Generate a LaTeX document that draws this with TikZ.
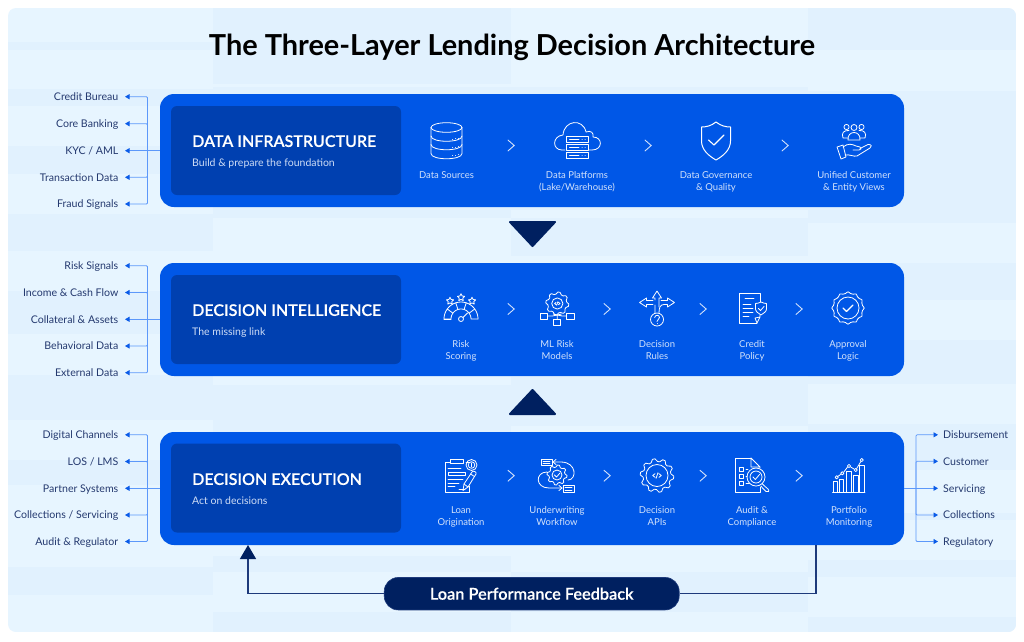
\documentclass[tikz,border=0pt]{standalone}
\usepackage{fontspec}
\setmainfont{Lato}
\newfontfamily\latosemi[FakeBold=0.15]{Lato Semibold}
\usetikzlibrary{arrows.meta}
\definecolor{bgA}{HTML}{E7F5FF}
\definecolor{bgB}{HTML}{E1F1FE}
\definecolor{panelblue}{HTML}{0057E7}
\definecolor{innerblue}{HTML}{0040B0}
\definecolor{navy}{HTML}{002060}
\definecolor{labelc}{HTML}{24396F}
\definecolor{itemc}{HTML}{D3E2FB}
\definecolor{subc}{HTML}{CFDDF6}
\definecolor{branchc}{HTML}{5C98FA}
\definecolor{tipc}{HTML}{0A5BE8}
\definecolor{fbline}{HTML}{1E3A7B}
\tikzset{
  panel/.style={fill=panelblue,draw=none,rounded corners=14pt,minimum width=744pt,minimum height=113pt,inner sep=0pt},
  innerbox/.style={fill=innerblue,draw=none,rounded corners=6pt,minimum width=230pt,minimum height=89pt,inner sep=0pt},
  paneltitle/.style={anchor=base west,inner sep=0pt,text=white,font=\latosemi\fontsize{16.03}{19}\selectfont},
  panelsub/.style={anchor=base west,inner sep=0pt,text=subc,font=\fontsize{10.5}{12}\selectfont},
  itemlabel/.style={anchor=north,inner sep=0pt,align=center,text=itemc,font=\fontsize{9.5}{11.7}\selectfont},
  sidel/.style={anchor=east,inner sep=0pt,text=labelc,text height=10pt,text depth=2.4pt,font=\fontsize{10.6}{12}\selectfont},
  sider/.style={anchor=west,inner sep=0pt,text=labelc,text height=10pt,text depth=2.4pt,font=\fontsize{10.6}{12}\selectfont},
  branch/.style={draw=branchc,line width=0.8pt,rounded corners=1pt,-{Triangle[length=4.5pt,width=5pt,color=tipc]}},
  branchl/.style={branch,shorten >=6.5pt},
  branchr/.style={branch,shorten >=5pt},
  fb/.style={draw=fbline,line width=1.3pt},
  ic/.style={draw=white,line width=0.8pt,line join=round,line cap=round},
  chev/.style={draw=itemc,line width=0.9pt,line join=miter},
  flow/.style={fill=navy,draw=navy,line width=2pt,line join=round}
}
\newcommand{\chevat}[2]{\draw[chev] (#1-3.2,#2-5.6) -- (#1+3.2,#2) -- (#1-3.2,#2+5.6);}
% star, centred on x,y with radius r
\newcommand{\ikstar}[3]{\begin{scope}[shift={(#1,#2)}]\draw[ic] plot[samples at={0,...,9},variable=\k] ({(mod(\k,2)==0?#3:#3*0.5)*sin(36*\k)},{-(mod(\k,2)==0?#3:#3*0.5)*cos(36*\k)}) -- cycle;\end{scope}}
% gear: x,y, root radius, tip radius, teeth
\newcommand{\ikgear}[5]{\begin{scope}[shift={(#1,#2)}]\draw[ic] plot[samples at={0,...,\numexpr4*#5-1\relax},variable=\k] ({(mod(\k,4)<2?#4:#3)*cos(90*\k/#5+22.5/#5)},{(mod(\k,4)<2?#4:#3)*sin(90*\k/#5+22.5/#5)}) -- cycle;\end{scope}}
% code sign
\newcommand{\ikcode}[3]{\begin{scope}[shift={(#1,#2)},scale=#3]\draw[ic] (-2,-2)--(-4.5,0)--(-2,2) (2,-2)--(4.5,0)--(2,2) (1,-3)--(-1,3);\end{scope}}
\begin{document}
\begin{tikzpicture}[x=1pt,y=-1pt]
\useasboundingbox (0,0) rectangle (1024,641);
\fill[white] (0,0) rectangle (1024,641);
% background
\begin{scope}
\clip[rounded corners=8pt] (8,8) rectangle (1016,632);
\fill[bgA] (8,8) rectangle (1016,632);
\foreach \ya/\yb in {42/50,89/106,146/174,214/251,291/334,375/420,460/485,567/595}
  \fill[bgB] (8,\ya) rectangle (213,\yb);
\foreach \ya/\yb in {8/84,87/218,385/420,420/540,556/572,612/632}
  \fill[bgB] (213,\ya) rectangle (511,\yb);
\foreach \ya/\yb in {87/210,218/256,377/426,572/612}
  \fill[bgB] (511,\ya) rectangle (808,\yb);
\foreach \ya/\yb in {8/50,91/223,263/300,340/384,424/470,513/520,560/577,617/632}
  \fill[bgB] (808,\ya) rectangle (1016,\yb);
\end{scope}
% title
\node[inner sep=0pt,text=black,font=\fontsize{28.9}{34}\selectfont\bfseries] (title) at (512,47.6) {The Three-Layer Lending Decision Architecture};
% panels
\node[panel] (p1) at (532,150.5) {};
\node[panel] (p2) at (532,319.5) {};
\node[panel] (p3) at (532,488.5) {};
\node[innerbox] (c1) at (286,150.5) {};
\node[innerbox] (c2) at (286,319.5) {};
\node[innerbox] (c3) at (286,488) {};
\node[paneltitle] (t1) at (192,146.9) {DATA INFRASTRUCTURE};
\node[panelsub] (s1) at (192,166) {Build \& prepare the foundation};
\node[paneltitle] (t2) at (192,315.9) {DECISION INTELLIGENCE};
\node[panelsub] (s2) at (192,335) {The missing link};
\node[paneltitle] (t3) at (192,484.9) {DECISION EXECUTION};
\node[panelsub] (s3) at (192,504) {Act on decisions};
% flow triangles
\draw[flow] (510,222) -- (555,222) -- (532.5,246) -- cycle;
\draw[flow] (510,414) -- (555,414) -- (532.5,390) -- cycle;
% side labels
\node[sidel] (l11) at (118.5,96.7) {Credit Bureau};
\node[sidel] (l12) at (118.5,123.7) {Core Banking};
\node[sidel] (l13) at (118.5,150.7) {KYC / AML};
\node[sidel] (l14) at (118.5,177.3) {Transaction Data};
\node[sidel] (l15) at (118.5,204) {Fraud Signals};
\node[sidel] (l21) at (118.5,265.7) {Risk Signals};
\node[sidel] (l22) at (118.5,292.5) {Income \& Cash Flow};
\node[sidel] (l23) at (118.5,319.3) {Collateral \& Assets};
\node[sidel] (l24) at (118.5,346) {Behavioral Data};
\node[sidel] (l25) at (118.5,372.7) {External Data};
\node[sidel] (l31) at (118.5,434.8) {Digital Channels};
\node[sidel] (l32) at (118.5,461.5) {LOS / LMS};
\node[sidel] (l33) at (118.5,488.3) {Partner Systems};
\node[sidel] (l34) at (118.5,515) {Collections / Servicing};
\node[sidel] (l35) at (118.5,541.5) {Audit \& Regulator};
\node[sider] (r1) at (943,434.8) {Disbursement};
\node[sider] (r2) at (943,461.3) {Customer};
\node[sider] (r3) at (943,488.3) {Servicing};
\node[sider] (r4) at (943,515) {Collections};
\node[sider] (r5) at (943,541.5) {Regulatory};
% branches
\coordinate (tr1) at (147.5,150.7);
\coordinate (tr2) at (147.5,319.3);
\coordinate (tr3) at (147.5,488.3);
\coordinate (tr4) at (916,488.3);
\foreach \i in {1,2,3} {
  \draw[branchl] (p\i.west |- l\i3.east) -- (l\i3.east);
  \draw[branchl] (tr\i) |- (l\i1.east);
  \draw[branchl] (tr\i) |- (l\i2.east);
  \draw[branchl] (tr\i) |- (l\i4.east);
  \draw[branchl] (tr\i) |- (l\i5.east);
}
\draw[branchr] (p3.east |- r3.west) -- (r3.west);
\draw[branchr] (tr4) |- (r1.west);
\draw[branchr] (tr4) |- (r2.west);
\draw[branchr] (tr4) |- (r4.west);
\draw[branchr] (tr4) |- (r5.west);
% feedback
\node[fill=navy,draw=fbline,line width=0.6pt,rounded corners=14pt,minimum width=295pt,minimum height=32.5pt,inner sep=0pt,text=white,font=\latosemi\fontsize{16.3}{19}\selectfont] (fbp) at (531.7,593.7) {Loan Performance Feedback};
\coordinate (fbL) at (248,545);
\coordinate (fbR) at (816,545);
\draw[fb] (fbR) |- (fbp.east);
\draw[fb,-{Triangle[length=14pt,width=16pt,color=navy]}] (fbp.west) -| (fbL);
% chevrons
\foreach \x in {511,648,785} {\chevat{\x}{145.5}}
\foreach \x in {511,607,703,799} {\chevat{\x}{309}}
\foreach \x in {511,607,703,799} {\chevat{\x}{475.7}}
% item labels
\node[itemlabel] (a1) at (446.5,171.3) {Data Sources};
\node[itemlabel] (a2) at (577,171.3) {Data Platforms\\(Lake/Warehouse)};
\node[itemlabel] (a3) at (716,171.3) {Data Governance\\\& Quality};
\node[itemlabel] (a4) at (854,171.3) {Unified Customer\\\& Entity Views};
\node[itemlabel] (b1) at (461,340.3) {Risk\\Scoring};
\node[itemlabel] (b2) at (557,340.3) {ML Risk\\Models};
\node[itemlabel] (b3) at (657,340.3) {Decision\\Rules};
\node[itemlabel] (b4) at (752,340.3) {Credit\\Policy};
\node[itemlabel] (b5) at (848,340.3) {Approval\\Logic};
\node[itemlabel] (d1) at (461,506.3) {Loan\\Origination};
\node[itemlabel] (d2) at (557,506.3) {Underwriting\\Workflow};
\node[itemlabel] (d3) at (657,506.3) {Decision\\APIs};
\node[itemlabel] (d4) at (752,506.3) {Audit \&\\Compliance};
\node[itemlabel] (d5) at (849,506.3) {Portfolio\\Monitoring};
% ---- icons ----
% database
\begin{scope}[shift={(446.5,141)}]
\draw[ic] (0,-13.5) ellipse (15.5 and 4.8);
\draw[ic] (-15.5,-13.5) -- (-15.5,12.5) .. controls (-15.5,19.5) and (15.5,19.5) .. (15.5,12.5) -- (15.5,-13.5);
\draw[ic] (-15.5,-5) .. controls (-15.5,2) and (15.5,2) .. (15.5,-5);
\draw[ic] (-15.5,3.5) .. controls (-15.5,10.5) and (15.5,10.5) .. (15.5,3.5);
\foreach \yy in {-2,6.5,14.5} \draw[ic,line width=0.7pt] (6,\yy) -- (6.3,\yy) (9,\yy-0.5) -- (9.3,\yy-0.5) (12,\yy-1) -- (12.3,\yy-1);
\end{scope}
% cloud and servers
\begin{scope}[shift={(577,141)}]
\draw[ic] (-12,9) -- (-15,9) .. controls (-25,9) and (-25,-5) .. (-14,-6) .. controls (-13,-21) and (6,-23) .. (9,-9) .. controls (14,-11) and (17,-8) .. (16,-4) .. controls (26,-4) and (26,9) .. (15,9) -- (12,9);
\foreach \yy in {-5,3,11} {
  \draw[ic] (-11,\yy) rectangle (11,\yy+6);
  \draw[ic] (-7.5,\yy+3) -- (2,\yy+3) (5,\yy+3) -- (5.2,\yy+3) (8,\yy+3) -- (8.2,\yy+3);
}
\end{scope}
% shield
\begin{scope}[shift={(716,141)}]
\draw[ic,line width=1pt] (0,-19) .. controls (5,-15) and (10,-14) .. (14.5,-14) -- (14.5,0) .. controls (14.5,9) and (7,15) .. (0,19) .. controls (-7,15) and (-14.5,9) .. (-14.5,0) -- (-14.5,-14) .. controls (-10,-14) and (-5,-15) .. (0,-19) -- cycle;
\draw[ic,line width=1.1pt] (-7.5,-1) -- (-2,4) -- (8,-6);
\end{scope}
% people and hand
\begin{scope}[shift={(854,141)}]
\draw[ic] (-7.5,-14) circle (2.6) (7.5,-14) circle (2.6) (0,-13.5) circle (3);
\draw[ic] (-6,-1) .. controls (-7,-11) and (7,-11) .. (6,-1) -- cycle;
\draw[ic] (-6,-3) -- (-11,-3) .. controls (-13,-8) and (-10,-11) .. (-5,-10.5);
\draw[ic] (6,-3) -- (11,-3) .. controls (13,-8) and (10,-11) .. (5,-10.5);
\draw[ic] (-11,6) .. controls (-6,2) and (-2,3) .. (2,5) -- (6,6) .. controls (8,7) and (7,9) .. (5,9) -- (-1,9);
\draw[ic] (6,7.5) -- (14,3.5) .. controls (18,3) and (18,6) .. (16,7) -- (3,15) .. controls (0,16) and (-5,13) .. (-9,14);
\draw[ic] (-11,4) -- (-17,6) -- (-13,18) -- (-8,16) -- cycle;
\end{scope}
% risk scoring
\begin{scope}[shift={(461,308)}]
\draw[ic] plot[domain=0:180,samples=30] ({17*cos(\x)},{11-17*sin(\x)}) -- (-10,11) ;
\draw[ic] plot[domain=180:0,samples=30] ({10*cos(\x)},{11-10*sin(\x)}) -- (17,11);
\draw[ic] (-17,11) -- (-10,11);
\foreach \a in {36,72,108,144} \draw[ic] ({10*cos(\a)},{11-10*sin(\a)}) -- ({17*cos(\a)},{11-17*sin(\a)});
\draw[ic] (0,11) circle (2.5);
\draw[ic] (2,9.5) -- (6.5,5);
\end{scope}
\ikstar{450}{301}{3.8}\ikstar{461}{297.5}{3.8}\ikstar{472}{301}{3.8}
% ML risk
\ikgear{557.3}{303.5}{9.5}{11.5}{8}
\begin{scope}[shift={(557.3,308)}]
\draw[ic] (0,-4.5) circle (5.6);
\draw[ic] (-17,5.5) rectangle (-9.5,11) (9.5,5.5) rectangle (17,11) (-3.5,11.5) rectangle (3.5,17);
\draw[ic] (0,11.5) -- (0,7) (-9.5,8) -- (-5,8) -- (0,7) (9.5,8) -- (5,8) -- (0,7) (-4,6) -- (0,7) (4,6) -- (0,7);
\end{scope}
\ikcode{557.3}{303.5}{0.6}
% decision rules
\begin{scope}[shift={(657,308)}]
\draw[ic] (0,11.5) circle (6.5);
\draw[ic] (-2.3,9.5) .. controls (-2,6.5) and (2.5,6.5) .. (2.5,9.5) .. controls (2.5,11.5) and (0,11.5) .. (0,13.5);
\draw[ic] (0,15.5) -- (0,15.6);
\draw[ic] (0,-17) -- (-4.5,-10) -- (-2,-10) -- (-2,-8) (0,-17) -- (4.5,-10) -- (2,-10) -- (2,-1) (-2,-3) -- (-2,5);
\draw[ic] (-17.5,-5.5) -- (-10.5,-10) -- (-10.5,-7.5) -- (-4,-7.5) (-17.5,-5.5) -- (-10.5,-1) -- (-10.5,-3.5) -- (-4,-3.5);
\draw[ic] (17.5,-5.5) -- (10.5,-10) -- (10.5,-7.5) -- (4,-7.5) (17.5,-5.5) -- (10.5,-1) -- (10.5,-3.5) -- (7,-3.5) .. controls (3,-3.5) and (2,0) .. (2,5);
\end{scope}
% credit policy
\begin{scope}[shift={(752,308)}]
\draw[ic] (5,15) -- (-13,15) -- (-13,-15) -- (8,-15) -- (8,-6);
\draw[ic] (-7,-10) -- (2,-10) (-9,-4) -- (-1,-4) (-9,0) -- (1,0) (-9,4) -- (1,4) (-9,8) -- (-3,8);
\draw[ic] (8,7) -- (8,9) -- (5,15) -- (3,10) -- (8,9);
\draw[ic] (9,-6) .. controls (11,-5) and (13,-4.5) .. (14.5,-4.5) -- (14.5,1) .. controls (14.5,3) and (12,5.5) .. (9,7) .. controls (6,5.5) and (3.5,3) .. (3.5,1) -- (3.5,-4.5) .. controls (5,-4.5) and (7,-5) .. (9,-6) -- cycle;
\draw[ic] (6.5,0.5) -- (8.5,2.5) -- (12,-1.5);
\end{scope}
% approval
\begin{scope}[shift={(848,308)}]
\draw[ic] plot[smooth cycle,samples at={0,10,...,350},variable=\a] ({(15.2+1*cos(12*\a))*cos(\a)},{(15.2+1*cos(12*\a))*sin(\a)});
\draw[ic] (0,0) circle (11);
\draw[ic,line width=1.1pt] (-5,0) -- (-1.5,3.5) -- (5,-3);
\end{scope}
% loan origination
\begin{scope}[shift={(461,475)}]
\draw[ic] (5,-13) -- (8,-13) (-11,-13) -- (-16,-13) -- (-16,17) -- (8,17) -- (8,11);
\draw[ic] (-11,-15.5) rectangle (2,-11.5);
\draw[ic] (10.5,-10) circle (5.5) (10.5,-10) circle (3.3);
\draw[ic,line width=0.7pt] (10.5,-12) -- (10.5,-8);
\draw[ic] (-13,-7) -- (0,-7) (-13,-3) rectangle (4,0) (-13,4) -- (2,4) (-13,8) -- (-2,8) (-13,11) -- (-6,11) (-2,14) -- (4,14);
\draw[ic] (2,15.5) -- (3,9) -- (11,-3) .. controls (12,-5) and (16,-3) .. (15,-1) -- (7,12) -- (2,15.5);
\draw[ic] (3,9) -- (7,12) (9.5,-1) -- (13.5,1.5);
\end{scope}
% underwriting
\ikgear{557}{475}{8}{10}{8}
\begin{scope}[shift={(557,475)}]
\draw[ic] (0,0) circle (5);
\draw[ic] (-2.5,0) -- (-0.5,2) -- (2.8,-1.8);
\draw[ic] (-16,-16) rectangle (-5,-9.5) (6,10.5) rectangle (17,17);
\draw[ic] (-14,-13.8) -- (-7,-13.8) (-14,-11.5) -- (-7,-11.5) (8,12.7) -- (15,12.7) (8,15) -- (15,15);
\draw[ic] (-4,-13) -- (4,-13) .. controls (20,-13) and (20,5) .. (11,5);
\draw[ic] (-1,-15.5) -- (-4,-13) -- (-1,-10.5);
\draw[ic] (-10,-3) .. controls (-22,-3) and (-22,13) .. (-8,13) -- (5,13);
\draw[ic] (2,10.5) -- (5,13) -- (2,15.5);
\end{scope}
% decision APIs
\ikgear{657}{475.5}{14}{16.8}{10}
\begin{scope}[shift={(657,475.5)}]
\draw[ic] (0,0) circle (11);
\end{scope}
\ikcode{657}{475.5}{0.95}
% audit
\begin{scope}[shift={(752,475)}]
\draw[ic] (-1,-17) -- (-17,-17) -- (-17,17) -- (8,17) -- (8,12);
\draw[ic] (-1,-17) -- (8,-8) -- (8,-7) (-1,-17) -- (-1,-8) -- (8,-8);
\draw[ic] (-13,-8) rectangle (-9,-4) (-13,-1) rectangle (-9,3) (-13,6) rectangle (-9,10);
\draw[ic] (-6,-6) -- (-4,-6) (-6,1) -- (-5,1) (-6,8) -- (-3,8);
\draw[ic] (4,2) circle (9) (4,2) circle (6);
\draw[ic] (1,2) -- (3.3,4.5) -- (7.5,-0.5);
\draw[ic] (10.5,9) -- (12,10.5) -- (16,14) .. controls (18,16) and (16,18) .. (14,16.5) -- (10.5,13) -- (9,11);
\end{scope}
% portfolio
\begin{scope}[shift={(849,475)}]
\draw[ic] (-16.5,17.3) -- (16,17.3);
\draw[ic] (-15.7,17.3) -- (-15.7,6.7) -- (-11.7,6.7) -- (-11.7,17.3);
\draw[ic] (-9.7,17.3) -- (-9.7,4) -- (-5.3,4) -- (-5.3,17.3);
\draw[ic] (-2.3,17.3) -- (-2.3,-3.3) -- (2.7,-3.3) -- (2.7,17.3);
\draw[ic] (4.7,17.3) -- (4.7,0) -- (9.3,0) -- (9.3,17.3);
\draw[ic] (10.3,17.3) -- (10.3,-9.3) -- (15,-9.3) -- (15,17.3);
\draw[ic] (-12.3,2.3) circle (1.6) (-6.7,-1.7) circle (1.6) (0,-9) circle (1.6) (6.7,-5) circle (1.6) (12.7,-15) circle (1.6);
\draw[ic] (-11,1.3) -- (-8,-0.8) (-5.3,-2.8) -- (-1.4,-8) (1.4,-8.2) -- (5.3,-5.8) (7.6,-6.4) -- (11.9,-13.6);
\end{scope}
\end{tikzpicture}
\end{document}
